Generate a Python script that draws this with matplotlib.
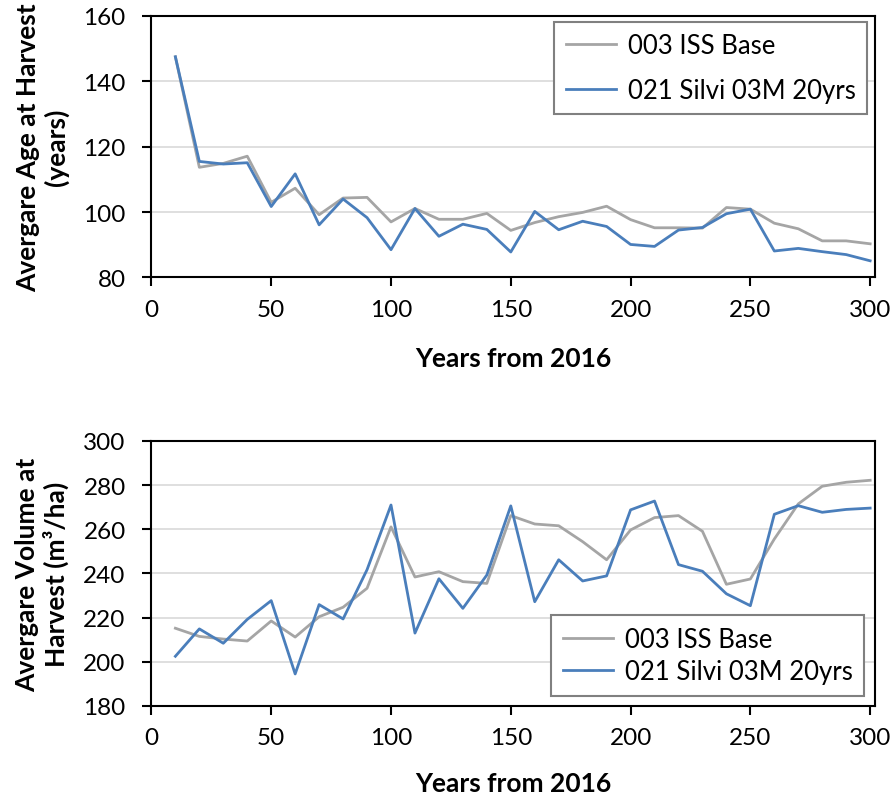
import matplotlib
matplotlib.use("Agg")
import matplotlib.pyplot as plt

# harvest years after 2016
years = list(range(10, 310, 10))

# average age at harvest (years)
age_base = [147.5, 113.7, 114.9, 117.1, 103.0, 107.3, 99.2, 104.3, 104.5, 97.0,
            101.1, 97.8, 97.8, 99.6, 94.4, 96.8, 98.6, 99.9, 101.8, 97.7,
            95.2, 95.2, 95.1, 101.4, 100.9, 96.6, 94.9, 91.2, 91.2, 90.3]
age_silvi = [147.5, 115.5, 114.7, 115.1, 101.7, 111.7, 96.1, 104.0, 98.3, 88.5,
             101.1, 92.6, 96.3, 94.7, 87.8, 100.2, 94.6, 97.2, 95.6, 90.1,
             89.5, 94.5, 95.3, 99.5, 100.9, 88.1, 88.9, 87.9, 87.0, 85.1]

# average volume at harvest (m3/ha)
vol_base = [215.2, 211.5, 210.3, 209.4, 218.5, 211.2, 220.4, 224.7, 233.3, 261.1,
            238.4, 240.8, 236.3, 235.5, 266.2, 262.4, 261.6, 254.4, 246.2, 259.7,
            265.3, 266.2, 259.1, 235.1, 237.5, 255.6, 271.5, 279.5, 281.3, 282.2]
vol_silvi = [202.5, 214.9, 208.4, 219.2, 227.7, 194.5, 225.9, 219.4, 241.7, 271.0,
             213.0, 237.6, 224.2, 239.3, 270.6, 227.2, 246.2, 236.6, 238.9, 268.8,
             272.8, 244.0, 241.0, 230.8, 225.4, 266.8, 270.7, 267.7, 269.0, 269.6]

labels = ["003 ISS Base", "021 Silvi 03M 20yrs"]
GRAY = "#a5a5a5"
BLUE = "#4a7ebb"
FONT = "Lato"

plt.rcParams["font.family"] = FONT

fig = plt.figure(figsize=(8.96, 8.03), dpi=100)
ax1 = fig.add_axes([0.169, 0.6532, 0.8075, 0.3257])
ax2 = fig.add_axes([0.169, 0.1196, 0.8075, 0.330])


def style_axes(ax, ylim, ystep, xlab_y):
    ax.set_xlim(0, 302)
    ax.set_ylim(*ylim)
    ax.set_xticks(range(0, 301, 50))
    ax.set_yticks(range(ylim[0], ylim[1] + 1, ystep))
    ax.grid(axis="y", color="#d9d9d9", linewidth=1.2)
    ax.set_axisbelow(True)
    for s in ax.spines.values():
        s.set_color("black")
        s.set_linewidth(1.5)
    ax.tick_params(direction="out", length=6.5, width=1.5, labelsize=17.5,
                   colors="black")
    ax.tick_params(axis="y", pad=12)
    ax.tick_params(axis="x", pad=9)
    ax.set_xlabel("Years from 2016", fontweight="bold", fontsize=19)
    ax.xaxis.set_label_coords(0.5, xlab_y)
    ax.yaxis.set_label_coords(-0.114, 0.5)


def add_legend(ax, loc, anchor, spacing):
    leg = ax.legend(loc=loc, bbox_to_anchor=anchor, borderaxespad=0,
                    prop={"family": FONT, "size": 18.5}, fancybox=False,
                    edgecolor="#808080", framealpha=1, handlelength=1.95,
                    handletextpad=0.45, labelspacing=spacing, borderpad=0.45)
    leg.get_frame().set_linewidth(1.5)
    return leg


# age at harvest
ax1.plot(years, age_base, color=GRAY, lw=2, label=labels[0])
ax1.plot(years, age_silvi, color=BLUE, lw=2, label=labels[1])
style_axes(ax1, (80, 160), 20, -0.262)
ax1.set_ylabel("Avergare Age at Harvest\n(years)", fontweight="bold",
               fontsize=19, linespacing=1.15)
add_legend(ax1, "upper right", (0.989, 0.978), 0.75)

# volume at harvest
ax2.plot(years, vol_base, color=GRAY, lw=2, label=labels[0])
ax2.plot(years, vol_silvi, color=BLUE, lw=2, label=labels[1])
style_axes(ax2, (180, 300), 20, -0.245)
ax2.set_ylabel("Avergare Volume at\nHarvest (m³/ha)", fontweight="bold",
               fontsize=19, linespacing=1.15)
add_legend(ax2, "lower right", (0.985, 0.038), 0.3)

fig.savefig("out.png", dpi=100)
